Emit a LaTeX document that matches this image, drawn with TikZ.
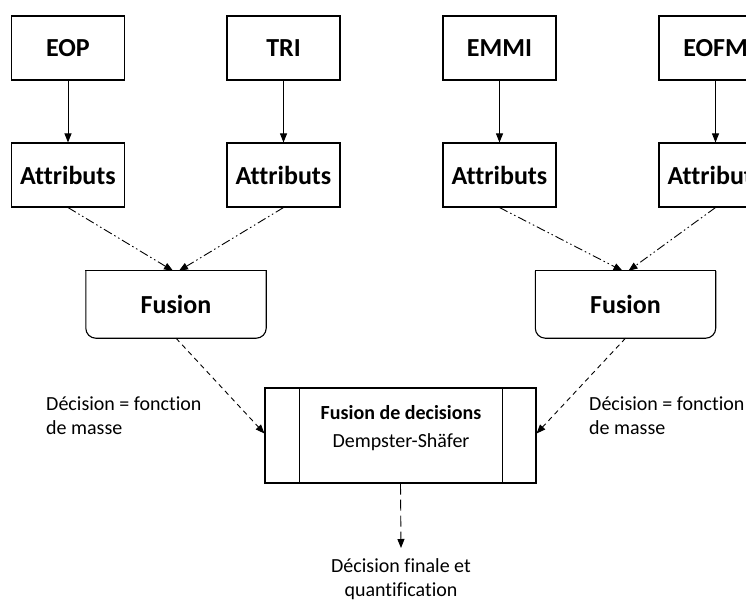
\documentclass[tikz,border=0pt]{standalone}
\usepackage{fontspec}
\setmainfont{Carlito}[Ligatures=NoCommon]
\usetikzlibrary{arrows.meta,calc}
\begin{document}
\begin{tikzpicture}[x=1pt,y=-1pt,
  box/.style={draw, line width=1.1pt, minimum width=113pt, minimum height=64pt, inner sep=0pt, font=\fontsize{26}{30}\selectfont\bfseries},
  fus/.style={minimum width=180pt, minimum height=67pt, inner sep=0pt, font=\fontsize{26}{30}\selectfont\bfseries},
  tip/.style={-{Triangle[length=9pt,width=7pt]}, line width=0.9pt},
  dashdot/.style={dash pattern=on 9pt off 3pt on 1.5pt off 3pt on 1.5pt off 3pt},
  shortdash/.style={dash pattern=on 5pt off 4pt},
  longdash/.style={dash pattern=on 11pt off 5pt},
  lab/.style={font=\fontsize{20}{24}\selectfont, align=left, inner sep=0pt}]
\useasboundingbox (0,0) rectangle (746,602);
\clip (0,0) rectangle (746,602);

% top boxes
\node[box] (eop)  at (68,48)    {EOP};
\node[box] (tri)  at (283.5,48) {TRI};
\node[box] (emmi) at (499.5,48) {EMMI};
\node[box] (eofm) at (715.5,48) {EOFM};

% attributs
\node[box] (a1) at (68,175)    {Attributs};
\node[box] (a2) at (283.5,175) {Attributs};
\node[box] (a3) at (499.5,175) {Attributs};
\node[box] (a4) at (715.5,175) {Attributs};

% fusion boxes
\node[fus] (f1) at (176,304.5) {Fusion};
\node[fus] (f2) at (625.5,304.5) {Fusion};
\foreach \f in {f1,f2}{
  \draw[line width=1.1pt, rounded corners=10pt] (\f.north west) -- (\f.south west) -- (\f.south east) -- (\f.north east);
  \draw[line width=1.1pt, line cap=rect] (\f.north west) -- (\f.north east);
}

% central box
\node[draw, line width=1.1pt, minimum width=271pt, minimum height=95pt, inner sep=0pt] (c) at (400.5,435.5) {};
\draw[line width=1.1pt] ([xshift=35pt]c.north west) -- ([xshift=35pt]c.south west);
\draw[line width=1.1pt] ([xshift=-34pt]c.north east) -- ([xshift=-34pt]c.south east);
\node[font=\fontsize{20}{28}\selectfont, inner sep=0pt, align=center] (ctext) at (401,428) {\textbf{Fusion de decisions}\\Dempster-Shäfer};

% labels
\node[lab, anchor=north west] (l1) at (46,397) {Décision = fonction\\de masse};
\node[lab, anchor=north west] (l2) at (589,397) {Décision = fonction\\de masse};
\node[lab, align=center, anchor=north] (fin) at (401,558) {Décision finale et\\quantification};
\coordinate (finend) at (401,548);

% arrows
\foreach \s/\t in {eop/a1,tri/a2,emmi/a3,eofm/a4}
  \draw[tip] (\s.south) -- (\t.north);
\draw[tip, dashdot] (a1.south) -- ([xshift=-3pt]f1.north);
\draw[tip, dashdot] (a2.south) -- ([xshift=3pt]f1.north);
\draw[tip, dashdot] (a3.south) -- ([xshift=-3pt]f2.north);
\draw[tip, dashdot] (a4.south) -- ([xshift=3pt]f2.north);
\draw[tip, shortdash] (f1.south) -- ([yshift=2pt]c.west);
\draw[tip, shortdash] (f2.south) -- ([yshift=2pt]c.east);
\draw[tip, longdash] (c.south) -- (finend);
\end{tikzpicture}
\end{document}
